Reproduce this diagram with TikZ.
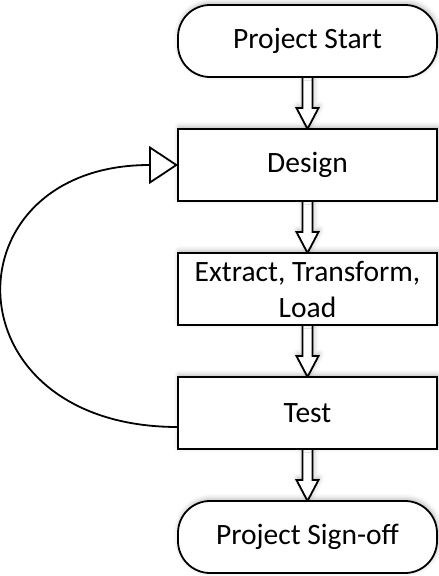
\documentclass[tikz,border=0pt]{standalone}
\usepackage{fontspec}
\setmainfont{Carlito}
\usepackage{tikz}
\usetikzlibrary{arrows.meta,positioning,calc,backgrounds,shadows.blur}

% hollow block arrow from the bottom of one box to the top of the next
\newcommand{\flowarrow}[2]{%
  \draw[blockarr] ($(#1.south)+(-5,0)$) -- ($(#2.north)+(-5,21)$) -- ($(#2.north)+(-11,21)$) -- (#2.north)
    -- ($(#2.north)+(11,21)$) -- ($(#2.north)+(5,21)$) -- ($(#1.south)+(5,0)$) -- cycle;}

\begin{document}
\begin{tikzpicture}[x=1pt,y=1pt,node distance=52pt,every node/.style={font=\fontsize{29.5}{36}\selectfont},shade/.style={blur shadow={shadow xshift=1pt,shadow yshift=2pt,shadow blur radius=5pt,shadow opacity=30}},box/.style={draw,line width=1.8pt,fill=white,shade,align=center,outer sep=0pt,inner sep=2pt,minimum width=259pt,minimum height=72pt},term/.style={box,rounded corners=32pt},blockarr/.style={draw,line width=1.8pt,fill=white,shade,line join=miter},loopback/.style={line width=1.8pt,-{Triangle[open,length=29pt,width=38pt]}}]
\useasboundingbox (0,0) rectangle (439,-576);
\node[term] (start) at (307.5,-41) {Project Start};
\node[box,below=of start] (design) {Design};
\node[box,below=of design] (etl) {Extract, Transform,\\Load};
\node[box,below=of etl] (test) {Test};
\node[term,below=of test] (signoff) {Project Sign-off};
\begin{scope}[on background layer]
\flowarrow{start}{design}\flowarrow{design}{etl}\flowarrow{etl}{test}\flowarrow{test}{signoff}
\end{scope}
\draw[loopback] ([yshift=-14pt]test.west) .. controls +(-232,0) and +(-232,0) .. (design.west);
\end{tikzpicture}
\end{document}
